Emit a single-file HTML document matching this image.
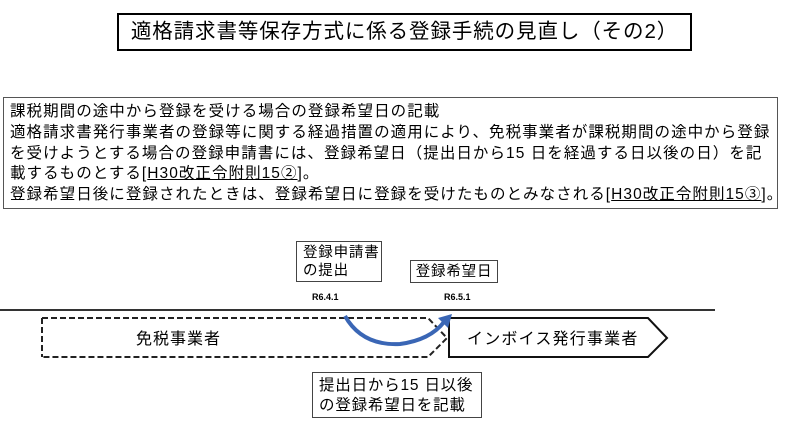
<!DOCTYPE html>
<html><head><meta charset="utf-8"><style>
body{margin:0;width:790px;height:428px;background:#fff;position:relative;overflow:hidden;font-family:"Liberation Sans","Noto Sans CJK JP",sans-serif;color:#000}
.a{position:absolute}
.t{left:117px;top:13px;width:571px;height:34px;border:2px solid #000;font-size:20.5px;letter-spacing:0.9px;line-height:34px;text-align:center}
.info{left:3px;top:97px;width:775px;height:112px;border:1px solid #555;font-size:15.5px;letter-spacing:1.05px;line-height:20.8px;padding:4px 0 0 6px;box-sizing:border-box;white-space:nowrap}
u{text-decoration:underline}
.bx{border:1px solid #444;font-size:14.5px;line-height:18px;background:#fff;letter-spacing:0.8px}
</style></head><body>
<div class="a t">適格請求書等保存方式に係る登録手続の見直し（その2）</div>
<div class="a info">課税期間の途中から登録を受ける場合の登録希望日の記載<br>適格請求書発行事業者の登録等に関する経過措置の適用により、免税事業者が課税期間の途中から登録<br>を受けようとする場合の登録申請書には、登録希望日（提出日から15 日を経過する日以後の日）を記<br>載するものとする[<u>H30改正令附則15②</u>]。<br>登録希望日後に登録されたときは、登録希望日に登録を受けたものとみなされる[<u>H30改正令附則15③</u>]。</div>
<div class="a bx" style="left:296px;top:241px;width:86px;height:41px;padding:2px 0 0 6px;box-sizing:border-box">登録申請書<br>の提出</div>
<div class="a bx" style="left:410px;top:260px;width:88px;height:23px;text-align:center;line-height:22px;box-sizing:border-box">登録希望日</div>
<div class="a" style="left:312px;top:292px;font-size:9px;font-weight:bold">R6.4.1</div>
<div class="a" style="left:444px;top:292px;font-size:9px;font-weight:bold">R6.5.1</div>
<svg class="a" style="left:0;top:0" width="790" height="428">
<line x1="0" y1="310" x2="715" y2="310" stroke="#333" stroke-width="2"/>
<polyline points="42,318 428,318 447,338 428,357 42,357" fill="none" stroke="#222" stroke-width="2" stroke-dasharray="6,3"/>
<line x1="42" y1="318" x2="42" y2="357" stroke="#222" stroke-width="2" stroke-dasharray="6,3"/>
<polygon points="449,318 648,318 667,338 648,357 449,357" fill="#fff" stroke="#111" stroke-width="2"/>
<path d="M345,316 Q362,346 400,344 Q430,340 444,322" fill="none" stroke="#3a66b5" stroke-width="4"/>
<polygon points="452,314 438,318 448,328" fill="#3a66b5"/>
<text x="136" y="344" font-size="16" letter-spacing="1" font-family="Liberation Sans,Noto Sans CJK JP,sans-serif">免税事業者</text>
<text x="467" y="344" font-size="16" letter-spacing="1.2" font-family="Liberation Sans,Noto Sans CJK JP,sans-serif">インボイス発行事業者</text>
</svg>
<div class="a bx" style="left:312px;top:372px;width:170px;height:46px;padding:3px 0 0 6px;box-sizing:border-box;font-size:15.5px;line-height:20px">提出日から15 日以後<br>の登録希望日を記載</div>
</body></html>
